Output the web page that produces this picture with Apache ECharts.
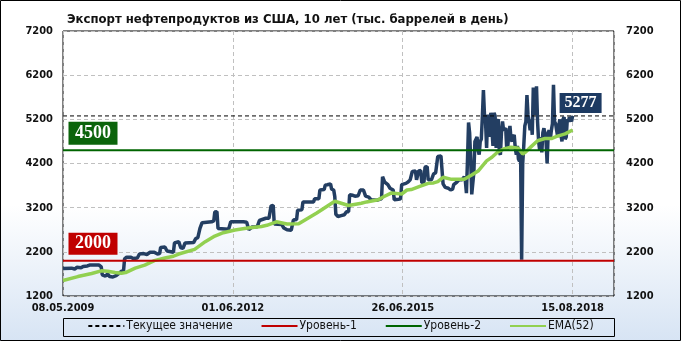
<!DOCTYPE html>
<html><head><meta charset="utf-8">
<script src="https://cdn.jsdelivr.net/npm/echarts@6/dist/echarts.min.js"></script>
<style>html,body{margin:0;padding:0;background:#fff}#c{width:681px;height:341px}</style>
</head><body><div id="c"></div>
<script>
// x positions are week numbers counted from 08.05.2009
const tickWeeks = [0, 160, 320, 480];
const tickLabels = ['08.05.2009', '01.06.2012', '26.06.2015', '15.08.2018'];
const axisLastWeek = 519;
const titleText = 'Экспорт нефтепродуктов из США, 10 лет (тыс. баррелей в день)';
const currentValue = 5277;
const level1 = 2000;
const level2 = 4500;

// weekly exports [week, value]
const exportPoints = [
[0,1820],[8,1830],[9,1850],[11,1810],[13,1850],[17,1840],[19,1870],[23,1880],[25,1900],[34,1900],[36,1860],[37,1680],[40,1650],[42,1700],[44,1640],[47,1630],[50,1660],[53,1720],[55,1760],[57,1770],[58,2040],[60,2080],[64,2080],[66,2050],[70,2060],[72,2150],[76,2160],[79,2140],[82,2190],[86,2190],[89,2150],[91,2160],[92,2300],[96,2310],[98,2220],[104,2190],
[105,2400],[109,2430],[111,2290],[113,2280],[115,2400],[123,2410],[125,2500],[127,2520],[129,2730],[131,2860],[140,2880],[142,2900],[143,3100],[145,3110],[146,2730],[156,2710],[158,2880],[170,2880],[173,2870],[175,2700],[178,2760],[183,2770],[185,2910],[191,2960],[194,2960],[196,3240],[198,3250],[199,2830],[206,2820],[208,2740],[211,2700],[215,2690],
[216,2690],[217,2920],[220,2930],[221,3140],[225,3150],[226,3330],[236,3330],[237,3400],[241,3400],[242,3600],[246,3610],[247,3710],[249,3720],[250,3750],[252,3740],[253,3620],[255,3600],[256,3450],[257,3050],[259,3000],[262,3020],[265,3040],[267,3110],[269,3110],[270,3490],[273,3480],[275,3460],[278,3470],[280,3600],[283,3600],[285,3460],[288,3440],[290,3380],[296,3370],[298,3390],[300,3400],
[301,3900],[303,3780],[306,3720],[308,3640],[311,3600],[312,3380],[316,3390],[318,3400],[319,3720],[323,3750],[325,3780],[327,3830],[328,3830],[329,4020],[332,4030],[333,3830],[334,3820],[335,4030],[337,4040],[338,3760],[340,3780],[341,4120],[343,4130],[344,3830],[347,3830],[349,3960],[351,3990],[352,3990],[353,4360],[356,4370],[357,4330],[358,3740],[360,3660],[363,3640],[365,3600],[367,3620],[368,3720],[371,3780],[373,3830],[376,3830],[378,3900],[379,3800],[380,3530],
[381,4280],[382,5130],[383,4900],[384,4300],[385,3500],[386,3520],[387,4000],[388,4700],[389,4750],[390,4800],[391,4500],[392,4400],[393,4700],[394,4750],[395,5250],[396,5860],[397,5300],[398,5150],[399,4550],[400,5300],[401,5250],[402,4800],[403,5350],[404,5370],[405,4600],[406,5350],[407,5280],[408,4550],[409,5150],[410,5200],[411,4450],[412,4400],[413,4900],[414,5150],[415,4950],[416,4950],[417,5000],[418,4500],[419,4600],[420,4900],[421,5050],[422,4750],[423,4700],[424,4800],[425,4850],[426,4550],[427,4400],[428,4600],[429,4300],[430,4250],[431,4500],[432,2020],[433,4200],[434,4600],[435,5050],[436,5150],[437,5750],[438,5300],[439,5150],[440,4950],
[441,5200],[442,4850],[443,5920],[444,5600],[445,5300],[446,5950],[447,5150],[448,4700],[449,4500],[450,4800],[451,4450],[452,4900],[453,5000],[454,4850],[455,4700],[456,4200],[457,4900],[458,4950],[459,4750],[460,4950],[461,5100],[462,5980],[463,5150],[464,5100],[465,4950],[466,4800],[467,5050],[468,5200],[469,4850],[470,4700],[471,5200],[472,5250],[473,4750],[474,4800],[475,5200],[476,5150],[477,5250],[478,5200],[479,5150],[480,5277]
];

const emaWeeks = [0,14,27,36,42,49,55,59,68,77,86,96,104,109,124,134,143,151,162,174,187,192,201,211,222,239,256,269,281,286,297,302,309,319,324,328,336,344,349,353,358,366,378,385,391,399,404,410,416,422,429,430,433,436,441,447,454,460,465,473,480];
const emaValues = [1550,1640,1710,1770,1760,1730,1715,1730,1830,1900,2000,2060,2100,2150,2257,2430,2558,2633,2694,2740,2775,2800,2880,2830,2835,3080,3345,3250,3300,3330,3380,3448,3530,3510,3600,3610,3680,3750,3760,3790,3887,3841,3841,3939,4030,4260,4340,4470,4535,4566,4543,4521,4415,4467,4582,4716,4765,4765,4815,4870,4960];

const FONT = "Tahoma, 'DejaVu Sans Condensed', 'DejaVu Sans', sans-serif";
const SERIF = "'Liberation Serif', 'DejaVu Serif', serif";
const chart = echarts.init(document.getElementById('c'), null, {renderer: 'canvas'});

const yAxisBase = {
  type: 'value', min: 1200, max: 7200, interval: 1000,
  axisLine: {show: false}, axisTick: {show: false},
  axisLabel: {fontFamily: FONT, fontWeight: 'bold', fontSize: 11, color: '#111', formatter: function (v) { return String(v); }}
};

function levelLabel(week, value, color, w, h, ox, oy, fs, fam) {
  return {
    silent: true,
    symbol: 'rect', symbolSize: [w, h], symbolOffset: [ox, oy],
    itemStyle: {color: color},
    label: {show: true, position: 'inside', color: '#fff', fontWeight: 'bold', fontSize: fs,
            fontFamily: fam, formatter: String(value)},
    data: [{coord: [week, value]}]
  };
}

chart.setOption({
  animation: false,
  backgroundColor: {type: 'linear', x: 0, y: 0, x2: 0, y2: 1,
    colorStops: [{offset: 0, color: '#ffffff'}, {offset: 0.6, color: '#ffffff'}, {offset: 1, color: '#d7e4f4'}]},
  title: {text: titleText, left: 62, top: 8,
    textStyle: {fontFamily: FONT, fontSize: 13, fontWeight: 'bold', color: '#111'}},
  grid: {left: 63, right: 67, top: 31, bottom: 45, show: true, borderColor: '#000', borderWidth: 1,
    backgroundColor: 'transparent'},
  xAxis: {
    type: 'value', min: 0, max: axisLastWeek, interval: 160,
    axisLine: {show: false}, axisTick: {show: false},
    splitLine: {show: true, lineStyle: {color: '#c0c0c0', type: [4, 3]}},
    axisLabel: {showMaxLabel: false, margin: 7, fontFamily: FONT, fontWeight: 'bold', fontSize: 11, color: '#111',
      formatter: function (v) { const i = tickWeeks.indexOf(v); return i >= 0 ? tickLabels[i] : ''; }}
  },
  yAxis: [
    Object.assign({}, yAxisBase, {position: 'left',
      splitLine: {show: true, lineStyle: {color: '#c0c0c0', type: [4, 3]}},
      axisLabel: Object.assign({}, yAxisBase.axisLabel, {margin: 10})}),
    Object.assign({}, yAxisBase, {position: 'right', splitLine: {show: false},
      axisLabel: Object.assign({}, yAxisBase.axisLabel, {margin: 12})})
  ],
  legend: {
    data: ['Текущее значение', 'Уровень-1', 'Уровень-2', 'EMA(52)'],
    left: 'center', top: 320, padding: 0, itemGap: 28, itemWidth: 36, itemHeight: 14,
    itemStyle: {opacity: 0},
    textStyle: {fontFamily: FONT, fontSize: 12, color: '#111', padding: [0, 0, 0, -3]}
  },
  graphic: [
    {type: 'rect', shape: {x: 63.5, y: 318.5, width: 551, height: 18}, style: {fill: 'none', stroke: '#000', lineWidth: 1}, silent: true},
    {type: 'rect', shape: {x: 0.5, y: 0.5, width: 680, height: 340}, style: {fill: 'none', stroke: '#000', lineWidth: 1}, silent: true}
  ],
  series: [
    {name: 'Экспорт', type: 'line', data: exportPoints, symbol: 'none',
     lineStyle: {color: '#233e62', width: 3.5}, itemStyle: {color: '#233e62'}, z: 2,
     markPoint: levelLabel(480, currentValue, '#1d3a62', 42, 20, 8, -13, 16, SERIF)},
    {name: 'EMA(52)', type: 'line', data: emaWeeks.map((w, i) => [w, emaValues[i]]), symbol: 'none',
     lineStyle: {color: '#92d050', width: 3.5}, itemStyle: {color: '#92d050'}, z: 3},
    {name: 'Уровень-1', type: 'line', data: [[0, level1], [axisLastWeek, level1]], symbol: 'none',
     lineStyle: {color: '#c00000', width: 2}, itemStyle: {color: '#c00000'}, z: 4,
     markPoint: levelLabel(0, level1, '#c00000', 49, 22, 30, -17, 18, SERIF)},
    {name: 'Уровень-2', type: 'line', data: [[0, level2], [axisLastWeek, level2]], symbol: 'none',
     lineStyle: {color: '#006400', width: 2}, itemStyle: {color: '#006400'}, z: 4,
     markPoint: levelLabel(0, level2, '#0b640b', 49, 23, 30, -17, 18, SERIF)},
    {name: 'Текущее значение', type: 'line', data: [[0, currentValue], [axisLastWeek, currentValue]], symbol: 'none',
     lineStyle: {color: '#000', width: 1, type: [4, 3]}, itemStyle: {color: '#000'}, z: 5}
  ]
});
</script></body></html>
